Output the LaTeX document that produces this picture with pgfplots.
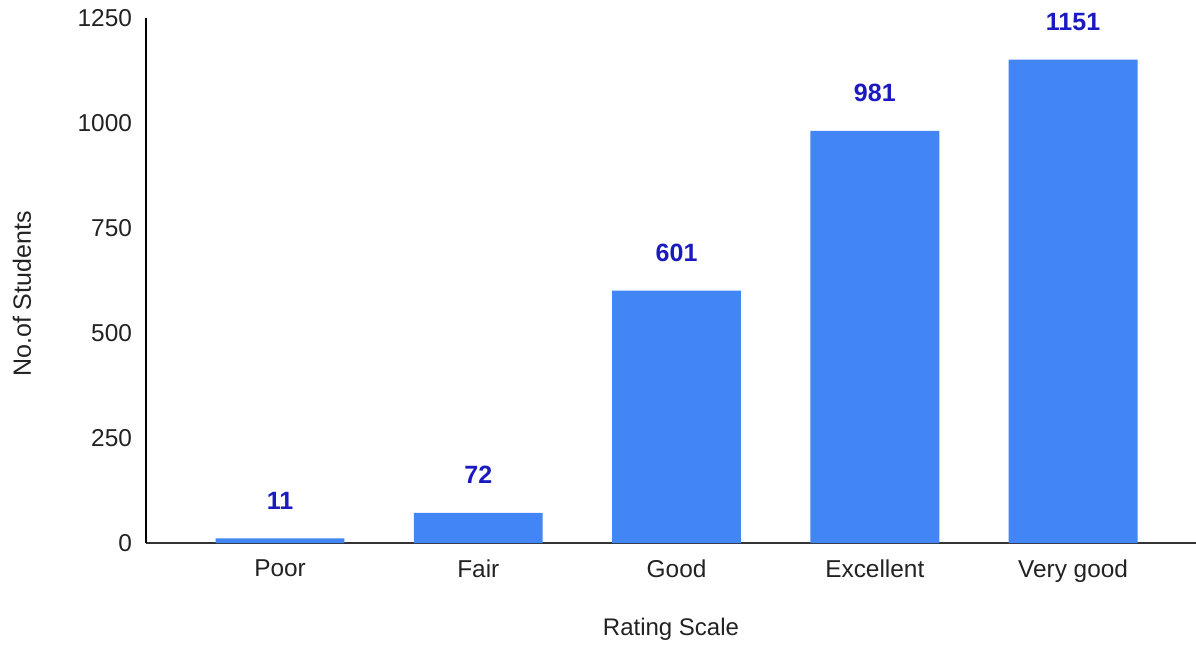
\documentclass[border=0pt]{standalone}
\usepackage{fontspec}
\setmainfont{Liberation Sans}
\usepackage{pgfplots}
\pgfplotsset{compat=1.18}
\definecolor{barblue}{HTML}{4285F4}
\definecolor{lblblue}{HTML}{1A1AC0}
\definecolor{txt}{HTML}{222222}
\begin{document}
\begin{tikzpicture}[x=1pt,y=1pt]
\useasboundingbox (0,0) rectangle (598,322);
\begin{axis}[
  at={(73pt,50.5pt)}, anchor=south west,
  scale only axis, width=525pt, height=262.5pt,
  xmin=-0.676, xmax=4.62, ymin=0, ymax=1250,
  axis lines=left,
  axis line style={-, line width=0.8pt, black},
  x axis line style={draw=black!80},
  ytick={0,250,500,750,1000,1250},
  xtick={0,1,2,3,4},
  xticklabels={Poor,Fair,Good,Excellent,Very good},
  major tick length=0pt,
  tick label style={font=\fontsize{12.2}{14}\selectfont, text=txt},
  /pgf/number format/assume math mode=true,
  /pgf/number format/1000 sep={},
  yticklabel style={xshift=-3.5pt},
  xticklabel style={yshift=-5pt},
  clip=false,
  ybar, bar width=0.65,
  nodes near coords,
  every node near coord/.append style={font=\bfseries\fontsize{12.5}{14}\selectfont, text=lblblue, yshift=11pt},
]
\addplot[fill=barblue, draw=none] coordinates {(0,11) (1,72) (2,601) (3,981) (4,1151)};
\end{axis}
\node[rotate=90, text=txt, font=\fontsize{12.5}{14}\selectfont] at (11,175) {No.of Students};
\node[text=txt, font=\fontsize{12}{14}\selectfont] at (335.5,7.5) {Rating Scale};
\end{tikzpicture}
\end{document}
